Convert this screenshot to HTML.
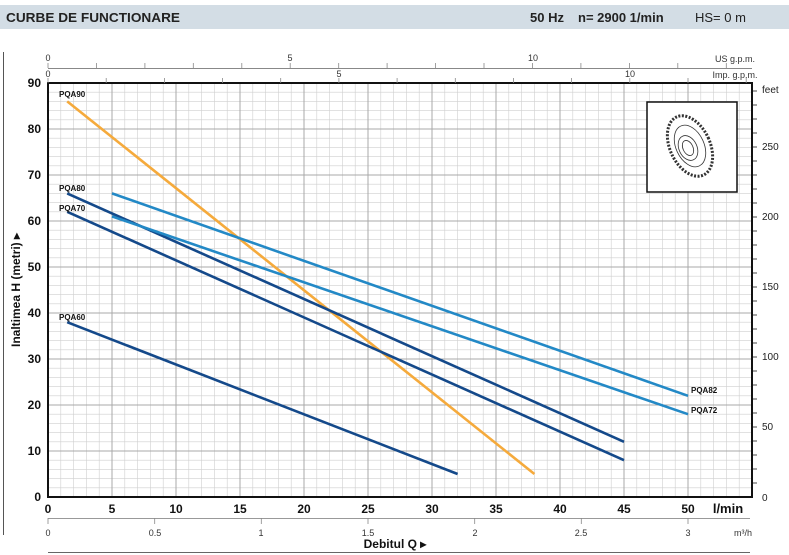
<!DOCTYPE html>
<html><head><meta charset="utf-8"><style>
body{margin:0;background:#fff;width:789px;height:555px;overflow:hidden}
svg{display:block;font-family:"Liberation Sans",sans-serif}
</style></head><body>
<svg width="789" height="555" viewBox="0 0 789 555" xmlns="http://www.w3.org/2000/svg">
<rect x="0" y="5" width="789" height="24" fill="#d3dde5"/>
<text x="6" y="22" font-size="13" font-weight="bold" fill="#222" textLength="174" lengthAdjust="spacingAndGlyphs">CURBE DE FUNCTIONARE</text>
<text x="530" y="22" font-size="13" font-weight="bold" fill="#222">50 Hz</text>
<text x="578" y="22" font-size="13" font-weight="bold" fill="#222">n= 2900  1/min</text>
<text x="695" y="22" font-size="13" fill="#222">HS= 0 m</text>
<line x1="3.5" y1="52" x2="3.5" y2="535" stroke="#555" stroke-width="1"/>
<g id="grid" stroke-width="0.6">
<script>/* static */</script>
</g>
<g stroke="#c8c8c8" stroke-width="0.6" id="g2"></g>
<!-- grid generated statically below -->
<g stroke="#cfcfcf" stroke-width="0.6">
<path d="M60.8 83V497M73.6 83V497M86.4 83V497M99.2 83V497M124.8 83V497M137.6 83V497M150.4 83V497M163.2 83V497M188.8 83V497M201.6 83V497M214.4 83V497M227.2 83V497M252.8 83V497M265.6 83V497M278.4 83V497M291.2 83V497M316.8 83V497M329.6 83V497M342.4 83V497M355.2 83V497M380.8 83V497M393.6 83V497M406.4 83V497M419.2 83V497M444.8 83V497M457.6 83V497M470.4 83V497M483.2 83V497M508.8 83V497M521.6 83V497M534.4 83V497M547.2 83V497M572.8 83V497M585.6 83V497M598.4 83V497M611.2 83V497M636.8 83V497M649.6 83V497M662.4 83V497M675.2 83V497M700.8 83V497M713.6 83V497M726.4 83V497M739.2 83V497"/>
<path d="M48 487.8H752M48 478.6H752M48 469.4H752M48 460.2H752M48 441.8H752M48 432.6H752M48 423.4H752M48 414.2H752M48 395.8H752M48 386.6H752M48 377.4H752M48 368.2H752M48 349.8H752M48 340.6H752M48 331.4H752M48 322.2H752M48 303.8H752M48 294.6H752M48 285.4H752M48 276.2H752M48 257.8H752M48 248.6H752M48 239.4H752M48 230.2H752M48 211.8H752M48 202.6H752M48 193.4H752M48 184.2H752M48 165.8H752M48 156.6H752M48 147.4H752M48 138.2H752M48 119.8H752M48 110.6H752M48 101.4H752M48 92.2H752"/>
</g>
<g stroke="#a8a8a8" stroke-width="1">
<path d="M112 83V497M176 83V497M240 83V497M304 83V497M368 83V497M432 83V497M496 83V497M560 83V497M624 83V497M688 83V497"/>
<path d="M48 451H752M48 405H752M48 359H752M48 313H752M48 267H752M48 221H752M48 175H752M48 129H752"/>
</g>
<rect x="48" y="83" width="704" height="414" fill="none" stroke="#111" stroke-width="2"/>
<!-- curves -->
<g stroke-width="2.6" stroke-linecap="butt" fill="none">
<line x1="67.2" y1="101.4" x2="534.4" y2="474" stroke="#f5aa3c"/>
<line x1="67.2" y1="193.4" x2="624" y2="441.8" stroke="#14498a"/>
<line x1="67.2" y1="211.8" x2="624" y2="460.2" stroke="#14498a"/>
<line x1="67.2" y1="322.2" x2="457.6" y2="474" stroke="#14498a"/>
<line x1="112" y1="193.4" x2="688" y2="395.8" stroke="#2389c6"/>
<line x1="112" y1="216.4" x2="688" y2="414.2" stroke="#2389c6"/>
</g>
<g font-size="8" font-weight="bold" fill="#111">
<text x="59" y="97">PQA90</text>
<text x="59" y="191">PQA80</text>
<text x="59" y="211">PQA70</text>
<text x="59" y="320">PQA60</text>
<text x="691" y="393">PQA82</text>
<text x="691" y="413">PQA72</text>
</g>
<!-- image box -->
<rect x="647" y="102" width="90" height="90" fill="#fff" stroke="#111" stroke-width="1.5"/>
<g fill="none" stroke="#333" stroke-width="0.8">
<ellipse cx="690" cy="146" rx="20" ry="32" transform="rotate(-25 690 146)" stroke-dasharray="2 1.5" stroke-width="3"/>
<ellipse cx="690" cy="146" rx="14" ry="22" transform="rotate(-25 690 146)"/>
<ellipse cx="688" cy="148" rx="9" ry="13" transform="rotate(-25 688 148)"/>
<ellipse cx="688" cy="148" rx="5" ry="8" transform="rotate(-25 688 148)"/>
</g>
<!-- left axis labels -->
<g font-size="12" font-weight="bold" fill="#111" text-anchor="end">
<text x="41" y="501">0</text><text x="41" y="455">10</text><text x="41" y="409">20</text><text x="41" y="363">30</text><text x="41" y="317">40</text><text x="41" y="271">50</text><text x="41" y="225">60</text><text x="41" y="179">70</text><text x="41" y="133">80</text><text x="41" y="87">90</text>
</g>
<text transform="translate(20 290) rotate(-90)" font-size="12" font-weight="bold" fill="#111" text-anchor="middle">Inaltimea  H  (metri)  ▸</text>
<!-- right feet axis -->
<g stroke="#111" stroke-width="0.8">
<path d="M752 483H757M752 469H757M752 455H757M752 441H757M752 427H757M752 413H757M752 399H757M752 385H757M752 371H757M752 357H757M752 343H757M752 329H757M752 315H757M752 301H757M752 287H757M752 273H757M752 259H757M752 245H757M752 231H757M752 217H757M752 203H757M752 189H757M752 175H757M752 161H757M752 147H757M752 133H757M752 119H757M752 105H757M752 91H757"/>
</g>
<g font-size="10" fill="#222">
<text x="762" y="93">feet</text>
<text x="762" y="150">250</text><text x="762" y="220">200</text><text x="762" y="290">150</text><text x="762" y="360">100</text><text x="762" y="430">50</text><text x="762" y="501">0</text>
</g>
<!-- bottom l/min -->
<g font-size="12" font-weight="bold" fill="#111" text-anchor="middle">
<text x="48" y="513">0</text><text x="112" y="513">5</text><text x="176" y="513">10</text><text x="240" y="513">15</text><text x="304" y="513">20</text><text x="368" y="513">25</text><text x="432" y="513">30</text><text x="496" y="513">35</text><text x="560" y="513">40</text><text x="624" y="513">45</text><text x="688" y="513">50</text>
<text x="728" y="513" font-size="13">l/min</text>
</g>
<!-- m3/h axis -->
<line x1="48" y1="518.5" x2="750" y2="518.5" stroke="#999" stroke-width="1"/>
<g stroke="#888" stroke-width="0.8"><path d="M48 518V524M154.7 518V524M261.3 518V524M368 518V524M474.7 518V524M581.3 518V524M688 518V524"/></g>
<g font-size="9" fill="#333" text-anchor="middle">
<text x="48" y="536">0</text><text x="155" y="536">0.5</text><text x="261" y="536">1</text><text x="368" y="536">1.5</text><text x="475" y="536">2</text><text x="581" y="536">2.5</text><text x="688" y="536">3</text><text x="743" y="536">m³/h</text>
</g>
<text x="395" y="548" font-size="12" font-weight="bold" fill="#111" text-anchor="middle">Debitul  Q  ▸</text>
<line x1="48" y1="552.5" x2="750" y2="552.5" stroke="#666" stroke-width="1"/>
<!-- top US gpm axis -->
<line x1="48" y1="68.5" x2="752" y2="68.5" stroke="#888" stroke-width="1"/>
<g stroke="#888" stroke-width="0.8"><path d="M48 63V68M96.4 63V68M144.9 63V68M193.3 63V68M241.8 63V68M290.2 63V68M338.7 63V68M387.1 63V68M435.6 63V68M484 63V68M532.5 63V68M580.9 63V68M629.4 63V68M677.8 63V68M726.3 63V68"/>
<path d="M48 78V83M106.2 78V83M164.4 78V83M222.5 78V83M280.7 78V83M338.9 78V83M397.1 78V83M455.3 78V83M513.5 78V83M571.6 78V83M629.8 78V83M688 78V83M746.2 78V83"/></g>
<g font-size="9" fill="#333" text-anchor="middle">
<text x="48" y="61">0</text><text x="290" y="61">5</text><text x="533" y="61">10</text>
<text x="48" y="77">0</text><text x="339" y="77">5</text><text x="630" y="77">10</text>
<text x="735" y="62">US g.p.m.</text><text x="735" y="78">Imp. g.p.m.</text>
</g>
</svg>
</body></html>
